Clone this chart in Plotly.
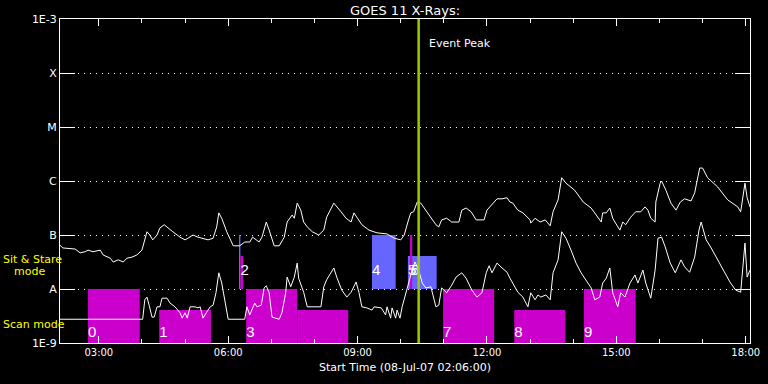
import datetime as dt
import plotly.graph_objects as go

# ---------------- data ----------------
START = dt.datetime(2007, 7, 8, 2, 6)   # start time of the plot
SPAN_MIN = 960                            # plotted span in minutes

Y_TICK_VALS = [1e-9, 1e-8, 1e-7, 1e-6, 1e-5, 1e-4, 1e-3]
Y_TICK_TEXT = ["1E-9", "A", "B", "C", "M", "X", "1E-3"]

# GOES long channel (minutes after start, log10 flux)
LONG_MIN = [0, 4, 21, 28, 35, 39, 46, 56, 60, 70,
            74, 81, 88, 93, 100, 107, 114, 117, 121, 125,
            129, 135, 139, 145, 150, 157, 167, 174, 178, 185,
            192, 199, 206, 213, 218, 221, 225, 232, 241, 250,
            257, 264, 268, 273, 277, 281, 287, 291, 298, 305,
            312, 316, 323, 326, 330, 335, 339, 344, 351, 360,
            367, 371, 381, 391, 398, 405, 409, 413, 420, 430,
            441, 455, 465, 474, 479, 484, 488, 492, 497, 502,
            509, 516, 523, 527, 531, 538, 545, 555, 559, 565,
            572, 579, 590, 594, 601, 608, 615, 622, 626, 630,
            637, 644, 654, 655, 661, 668, 675, 682, 686, 693,
            698, 704, 716, 728, 739, 748, 753, 755, 760, 765,
            769, 773, 779, 783, 787, 794, 801, 808, 814, 818,
            822, 828, 829, 835, 837, 843, 850, 857, 863, 869,
            878, 883, 890, 894, 901, 915, 929, 943, 947, 953,
            956, 960]
LONG_LOG = [-7.19, -7.24, -7.26, -7.33, -7.31, -7.28, -7.31, -7.28, -7.37, -7.43,
            -7.50, -7.46, -7.50, -7.43, -7.41, -7.37, -7.28, -7.13, -6.94, -7.00,
            -7.09, -7.00, -6.87, -6.81, -6.87, -6.94, -7.04, -7.09, -7.06, -7.00,
            -7.04, -7.06, -7.09, -7.06, -6.85, -6.59, -6.69, -6.94, -7.20, -7.20,
            -7.13, -7.13, -7.04, -7.09, -7.13, -7.04, -6.76, -6.91, -7.20, -7.20,
            -7.04, -6.76, -6.63, -6.69, -6.41, -6.54, -6.76, -6.85, -6.94, -7.00,
            -6.91, -6.67, -6.41, -6.57, -6.69, -6.76, -6.59, -6.67, -6.81, -6.91,
            -6.96, -6.98, -7.06, -7.09, -7.00, -6.76, -6.59, -6.57, -6.39, -6.41,
            -6.54, -6.69, -6.81, -6.85, -6.72, -6.69, -6.76, -6.76, -6.54, -6.50,
            -6.57, -6.72, -6.72, -6.54, -6.44, -6.33, -6.33, -6.31, -6.39, -6.41,
            -6.54, -6.59, -6.72, -6.78, -6.69, -6.76, -6.72, -6.83, -6.57, -6.35,
            -5.94, -6.04, -6.17, -6.39, -6.50, -6.67, -6.76, -6.59, -6.59, -6.50,
            -6.69, -6.78, -6.91, -6.76, -6.81, -6.67, -6.57, -6.57, -6.48, -6.54,
            -6.69, -6.76, -6.39, -6.04, -6.00, -6.17, -6.41, -6.54, -6.39, -6.33,
            -6.37, -6.22, -5.76, -5.76, -5.94, -6.11, -6.35, -6.48, -6.57, -6.04,
            -6.31, -6.48]

# GOES short channel (minutes after start, log10 flux)
SHORT_MIN = [0, 115, 118, 121, 124, 128, 131, 135, 139, 142,
             149, 153, 160, 167, 170, 174, 177, 181, 188, 192,
             195, 199, 204, 209, 213, 217, 221, 225, 230, 234,
             257, 260, 264, 268, 271, 274, 280, 284, 287, 291,
             295, 305, 309, 314, 316, 321, 326, 330, 332, 339,
             344, 363, 367, 371, 381, 385, 392, 399, 405, 412,
             416, 420, 427, 434, 437, 447, 453, 455, 460, 462,
             467, 469, 473, 476, 481, 485, 490, 494, 499, 504,
             509, 516, 523, 527, 531, 538, 545, 551, 559, 565,
             573, 580, 587, 593, 597, 601, 608, 615, 622, 626,
             630, 637, 644, 651, 655, 661, 665, 669, 676, 682,
             686, 693, 698, 704, 711, 718, 725, 735, 739, 744,
             751, 755, 760, 765, 769, 776, 780, 786, 793, 800,
             804, 811, 815, 822, 828, 832, 837, 842, 849, 856,
             860, 864, 869, 876, 883, 889, 892, 899, 906, 913,
             922, 932, 940, 947, 953, 956, 960]
SHORT_LOG = [-8.56, -8.56, -8.20, -8.15, -8.30, -8.52, -8.52, -8.33, -8.33, -8.17,
             -8.17, -8.26, -8.33, -8.44, -8.54, -8.44, -8.54, -8.33, -8.33, -8.35,
             -8.33, -8.54, -8.43, -8.33, -8.30, -8.07, -7.70, -7.89, -8.26, -8.56,
             -8.56, -8.33, -8.48, -8.35, -8.26, -8.33, -8.30, -7.98, -7.94, -8.07,
             -8.52, -8.56, -8.43, -8.07, -7.78, -7.96, -7.78, -7.52, -7.80, -8.06,
             -8.33, -8.33, -7.96, -7.83, -7.61, -7.78, -8.02, -8.15, -8.06, -7.87,
             -8.07, -8.33, -8.35, -8.39, -8.33, -8.35, -8.48, -8.33, -8.54, -8.35,
             -8.54, -8.39, -8.54, -8.33, -8.07, -7.89, -7.65, -7.50, -7.65, -7.89,
             -7.98, -7.96, -8.33, -8.30, -7.98, -8.07, -7.93, -7.78, -7.70, -7.80,
             -8.02, -8.15, -8.07, -7.70, -7.57, -7.70, -7.52, -7.61, -7.69, -7.80,
             -7.89, -8.06, -8.15, -8.33, -8.07, -8.20, -8.11, -8.15, -8.11, -8.20,
             -7.70, -7.46, -6.94, -7.06, -7.28, -7.52, -7.70, -7.89, -7.98, -8.20,
             -8.15, -7.89, -7.80, -7.61, -8.07, -8.33, -8.07, -8.15, -7.89, -7.74,
             -7.89, -7.65, -7.89, -8.17, -7.65, -7.06, -7.04, -7.22, -7.52, -7.70,
             -7.59, -7.46, -7.59, -7.69, -7.41, -6.91, -6.76, -7.09, -7.24, -7.41,
             -7.65, -7.87, -8.02, -8.06, -7.15, -7.78, -7.65]

# Scan-mode rasters (magenta): start/end minutes, bottom and top flux
SCAN_START = [39, 138, 259, 330, 533, 632, 729]
SCAN_END = [111, 210, 330, 401, 604, 703, 801]
SCAN_LOW = [1e-9, 1e-9, 1e-9, 1e-9, 1e-9, 1e-9, 1e-9]
SCAN_HIGH = [1e-8, 4.1e-9, 1e-8, 4.1e-9, 1e-8, 4.1e-9, 1e-8]

# Sit & stare rasters (blue)
SS_START = [249, 434, 484]
SS_END = [251, 467, 524]
SS_LOW = [1e-8, 1e-8, 1e-8]
SS_HIGH = [1e-7, 1e-7, 4.1e-8]

# thin magenta markers in sit & stare band
MAG_START = [251, 487]
MAG_END = [255, 490]
MAG_LOW = [1e-8, 1e-8]
MAG_HIGH = [4.1e-8, 1e-7]

# raster number labels
LABEL_TEXT = ["0", "1", "2", "3", "4", "5", "6", "7", "8", "9"]
LABEL_MIN = [39, 138, 251, 259, 434, 484, 488, 533, 632, 729]
LABEL_FLUX = [1.5e-9, 1.5e-9, 2.15e-8, 1.5e-9, 2.15e-8, 2.15e-8, 2.15e-8, 1.5e-9, 1.5e-9, 1.5e-9]

EVENT_PEAK_MIN = 499

# ---------------- helpers ----------------
def t(m):
    return START + dt.timedelta(minutes=m)

MAGENTA = "#cc00cc"
BLUE = "#6666ff"
GREEN = "#99cc00"
YELLOW = "#ffff00"

fig = go.Figure()

def rect(t0, t1, lo, hi, color):
    fig.add_trace(go.Scatter(
        x=[t(t0), t(t1), t(t1), t(t0), t(t0)],
        y=[lo, lo, hi, hi, lo],
        mode="lines", fill="toself", fillcolor=color,
        line=dict(width=0, color=color), hoverinfo="skip"))

for a, b, lo, hi in zip(SCAN_START, SCAN_END, SCAN_LOW, SCAN_HIGH):
    rect(a, b, lo, hi, MAGENTA)
for a, b, lo, hi in zip(SS_START, SS_END, SS_LOW, SS_HIGH):
    rect(a, b, lo, hi, BLUE)
for a, b, lo, hi in zip(MAG_START, MAG_END, MAG_LOW, MAG_HIGH):
    rect(a, b, lo, hi, MAGENTA)

fig.add_trace(go.Scatter(
    x=[t(m) for m in LONG_MIN], y=[10 ** v for v in LONG_LOG],
    mode="lines", line=dict(color="white", width=1)))
fig.add_trace(go.Scatter(
    x=[t(m) for m in SHORT_MIN], y=[10 ** v for v in SHORT_LOG],
    mode="lines", line=dict(color="white", width=1)))

fig.add_trace(go.Scatter(
    x=[t(m) for m in LABEL_MIN], y=LABEL_FLUX, text=LABEL_TEXT,
    mode="text", textposition="middle right",
    textfont=dict(color="white", size=15, family="Liberation Sans")))

fig.add_shape(type="line", xref="x", yref="paper",
              x0=t(EVENT_PEAK_MIN), x1=t(EVENT_PEAK_MIN), y0=0, y1=1,
              line=dict(color=GREEN, width=2.5), layer="above")

PLOT_L, PLOT_R, PLOT_T, PLOT_B = 60, 750, 19, 343
def px(xp):
    return (xp - PLOT_L) / (PLOT_R - PLOT_L)
def py(yp):
    return (PLOT_B - yp) / (PLOT_B - PLOT_T)

ann = [
    dict(text="Event Peak", x=t(EVENT_PEAK_MIN), xref="x", xanchor="left", xshift=8,
         y=py(43), yref="paper", yanchor="middle", font=dict(size=11, color="white")),
    dict(text="Sit & Stare", x=px(1), xref="paper", xanchor="left",
         y=py(259), yref="paper", yanchor="middle", font=dict(size=11, color=YELLOW)),
    dict(text="mode", x=px(12), xref="paper", xanchor="left",
         y=py(271), yref="paper", yanchor="middle", font=dict(size=11, color=YELLOW)),
    dict(text="Scan mode", x=px(1), xref="paper", xanchor="left",
         y=py(324), yref="paper", yanchor="middle", font=dict(size=11, color=YELLOW)),
    dict(text="Start Time (08-Jul-07 02:06:00)", x=0.5, xref="paper", xanchor="center",
         y=py(368), yref="paper", yanchor="middle", font=dict(size=11, color="white")),
]
for a in ann:
    a["showarrow"] = False
    fig.add_annotation(**a)

fig.update_layout(
    width=768, height=384,
    paper_bgcolor="black", plot_bgcolor="black",
    margin=dict(l=PLOT_L, r=768 - PLOT_R, t=PLOT_T, b=384 - PLOT_B),
    showlegend=False,
    font=dict(family="DejaVu Sans", color="white", size=11),
    title=dict(text="GOES 11 X-Rays:", x=(PLOT_L + PLOT_R) / 2 / 768, xanchor="center",
               y=1 - 10 / 384, yanchor="middle", font=dict(size=13, color="white")),
    xaxis=dict(
        type="date", range=[t(0), t(SPAN_MIN)], automargin=False,
        showgrid=False, zeroline=False,
        showline=True, linecolor="white", linewidth=1, mirror="ticks",
        ticks="inside", ticklen=7, tickcolor="white", tickwidth=1,
        tick0="2007-07-08 03:00", dtick=3 * 3600000, tickformat="%H:%M",
        tickfont=dict(size=10, color="white"),
        minor=dict(tick0="2007-07-08 03:00", dtick=3600000, ticks="inside",
                   ticklen=4, tickcolor="white", showgrid=False),
    ),
    yaxis=dict(
        type="log", range=[-9, -3], automargin=False,
        tickvals=Y_TICK_VALS, ticktext=Y_TICK_TEXT,
        showgrid=True, gridcolor="white", gridwidth=1, griddash="1px,5px",
        zeroline=False,
        showline=True, linecolor="white", linewidth=1, mirror="ticks",
        ticks="inside", ticklen=15, tickcolor="white", tickwidth=1,
        tickfont=dict(size=11, color="#ffffff"),
    ),
)

fig.write_html(
    "out.html",
    config={"displayModeBar": False},
    post_script="document.body.style.margin='0';document.body.style.background='black';",
)
